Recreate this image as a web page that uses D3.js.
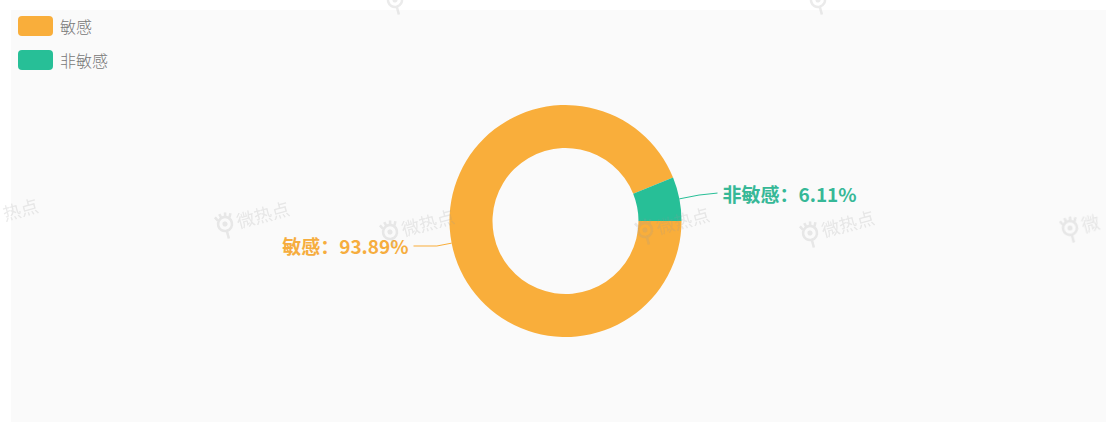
<!DOCTYPE html>
<html>
<head>
<meta charset="utf-8">
<script src="https://cdn.jsdelivr.net/npm/d3@7"></script>
<style>
  html, body { margin: 0; padding: 0; background: #fff; }
  svg { display: block; }
</style>
</head>
<body>
<div id="chart"></div>
<script>
// data
const categories = ["敏感", "非敏感"];
const values = [93.89, 6.11];
const colors = ["#f9ae3b", "#27bf97"];
const labelColors = ["#f6ad3e", "#36b897"];

const width = 1108, height = 425;
const cx = 565.5, cy = 221;
const outerR = 116, innerR = 73;

const svg = d3.select("#chart")
  .append("svg")
  .attr("width", width)
  .attr("height", height)
  .style("font-family", "'Noto Sans CJK SC', 'Noto Sans', sans-serif");

// background panel
svg.append("rect")
  .attr("x", 11).attr("y", 10)
  .attr("width", 1095).attr("height", 412)
  .attr("fill", "#fafafa");

// Legend
const legend = svg.append("g").selectAll("g")
  .data(categories)
  .enter()
  .append("g")
  .attr("transform", (d, i) => "translate(18," + (16 + i * 34) + ")");

legend.append("rect")
  .attr("width", 35).attr("height", 20)
  .attr("rx", 4)
  .attr("fill", (d, i) => colors[i]);

legend.append("text")
  .attr("x", 42).attr("y", 10)
  .attr("dominant-baseline", "central")
  .style("font-size", "16px")
  .style("font-weight", "300")
  .style("fill", "#777")
  .text(d => d);

// Pie
const pie = d3.pie()
  .sort(null)
  .startAngle(Math.PI / 2)
  .endAngle(Math.PI / 2 + 2 * Math.PI);

const arcs = pie(values);
const arc = d3.arc().innerRadius(innerR).outerRadius(outerR);

const g = svg.append("g").attr("transform", "translate(" + cx + "," + cy + ")");

g.selectAll("path.slice")
  .data(arcs)
  .enter()
  .append("path")
  .attr("class", "slice")
  .attr("d", arc)
  .attr("fill", (d, i) => colors[i]);

// Label lines and labels
function pointAt(a, r) {
  return [r * Math.sin(a), -r * Math.cos(a)];
}

arcs.forEach((d, i) => {
  const mid = (d.startAngle + d.endAngle) / 2;
  const right = Math.sin(mid) > 0;
  const p1 = pointAt(mid, outerR);
  const p2 = pointAt(mid, outerR + (right ? 20 : 15));
  const p3 = [right ? outerR + 36 : -(outerR + 36), p2[1] - (right ? 2 : 0)];

  g.append("polyline")
    .attr("points", [p1, p2, p3].map(p => p.join(",")).join(" "))
    .attr("fill", "none")
    .attr("stroke", colors[i])
    .attr("stroke-width", 1);

  g.append("text")
    .attr("x", p3[0] + (right ? 5 : -5))
    .attr("y", p3[1])
    .attr("text-anchor", right ? "start" : "end")
    .attr("dominant-baseline", "central")
    .style("font-size", "19px")
    .style("font-weight", "bold")
    .style("fill", labelColors[i])
    .text(categories[i] + "：" + values[i].toFixed(2) + "%");
});

// Watermarks
const marks = [
  { x: -30, y: 222, t: "微热点" }, { x: 225, y: 224, t: "微热点" },
  { x: 390, y: 232, t: "微热点" }, { x: 645, y: 230, t: "微热点" },
  { x: 810, y: 233, t: "微热点" }, { x: 1070, y: 228, t: "微" },
  { x: 395, y: 0, t: "" }, { x: 818, y: 0, t: "" }
];
const wm = svg.append("g")
  .attr("pointer-events", "none")
  .style("opacity", 0.2)
  .selectAll("g")
  .data(marks)
  .enter()
  .append("g")
  .attr("transform", d => "translate(" + d.x + "," + d.y + ") rotate(-15)");

wm.append("circle").attr("r", 7).attr("fill", "none").attr("stroke", "#999").attr("stroke-width", 2.5);
wm.append("circle").attr("r", 2.5).attr("fill", "#999");
wm.append("path").attr("d", "M-8,-9 L-6,-5 M-3,-11 L-2,-7 M3,-11 L2,-7 M8,-9 L6,-5 M0,7 L0,15")
  .attr("stroke", "#999").attr("stroke-width", 2.5).attr("fill", "none");
wm.append("text")
  .attr("x", d => d.x < 0 ? 34 : 12).attr("y", 0)
  .attr("dominant-baseline", "central")
  .style("font-size", "18px")
  .style("fill", "#999")
  .text(d => d.x < 0 ? d.t.slice(1) : d.t);
</script>
</body>
</html>
